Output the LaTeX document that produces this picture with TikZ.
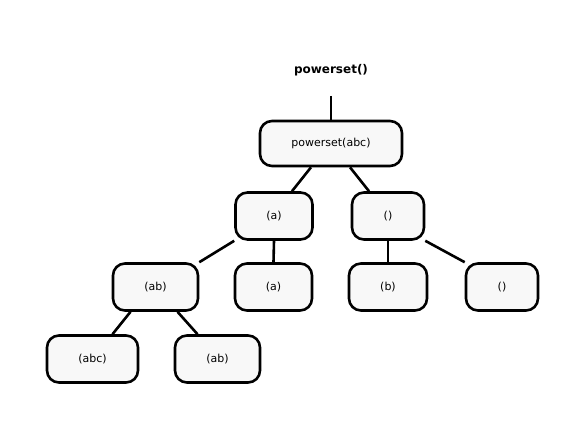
\documentclass[tikz,border=0pt]{standalone}
\usepackage{fontspec}
\setmainfont{DejaVu Sans}
\definecolor{boxfill}{HTML}{F8F8F8}
\tikzset{
      callbox/.style={
        rounded corners=12pt,
        draw=black,
        line width=2.6pt,
        fill=boxfill,
        minimum height=47pt,
        inner sep=0pt,
        font=\fontsize{11}{13}\selectfont
      },
      treeline/.style={line width=2.6pt}
    }
\begin{document}
\begin{tikzpicture}[x=1pt,y=1pt]
    \useasboundingbox (0,0) rectangle (586,432);
    \node[font=\bfseries\fontsize{12}{14}\selectfont] (title) at (331,362) {powerset()};
    \coordinate (start) at (331,336);
    \node[callbox, minimum width=142pt, minimum height=45pt] (root) at (331,288.5) {powerset(abc)};
    \node[callbox, minimum width=77pt] (a1) at (274,216) {(a)};
    \node[callbox, minimum width=72pt] (e1) at (388,216) {()};
    \node[callbox, minimum width=85pt] (ab1) at (155.5,145) {(ab)};
    \node[callbox, minimum width=77pt] (a2) at (273.5,145) {(a)};
    \node[callbox, minimum width=78pt] (b) at (388,145) {(b)};
    \node[callbox, minimum width=72pt] (e2) at (502,145) {()};
    \node[callbox, minimum width=91pt] (abc) at (92.5,73) {(abc)};
    \node[callbox, minimum width=85pt] (ab2) at (217.5,73) {(ab)};
    \draw[treeline] (start) -- (root.north);
    \draw[treeline] ([xshift=-20pt]root.south) -- ([xshift=18pt]a1.north);
    \draw[treeline] ([xshift=19pt]root.south) -- ([xshift=-19pt]e1.north);
    \draw[treeline] (a1.south west) -- (ab1.north east);
    \draw[treeline] (a1.south) -- (a2.north);
    \draw[treeline] (e1.south) -- (b.north);
    \draw[treeline] (e1.south east) -- (e2.north west);
    \draw[treeline] ([xshift=-25pt]ab1.south) -- ([xshift=20pt]abc.north);
    \draw[treeline] ([xshift=22pt]ab1.south) -- ([xshift=-20pt]ab2.north);
    \end{tikzpicture}
\end{document}
